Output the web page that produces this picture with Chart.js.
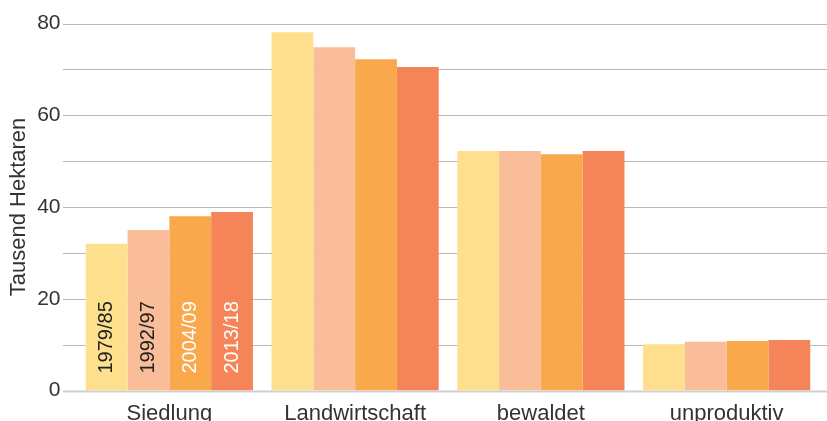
<!DOCTYPE html>
<html>
<head>
<meta charset="utf-8">
<script src="https://cdn.jsdelivr.net/npm/chart.js@4/dist/chart.umd.min.js"></script>
<style>
  html, body { margin: 0; padding: 0; background: #fff; }
  #wrap { width: 827px; height: 421px; position: relative; }
</style>
</head>
<body>
<div id="wrap"><canvas id="areaChart"></canvas></div>
<script>
// land use categories and survey periods
var categories = ["Siedlung", "Landwirtschaft", "bewaldet", "unproduktiv"];
var periods = ["1979/85", "1992/97", "2004/09", "2013/18"];

// values in thousand hectares, one array per period
var values1979 = [32.0, 78.1, 52.2, 10.1];
var values1992 = [35.0, 74.8, 52.2, 10.6];
var values2004 = [38.0, 72.2, 51.5, 10.8];
var values2013 = [38.9, 70.5, 52.2, 11.0];

var yTicks = [0, 20, 40, 60, 80];

var barColors = ["#fddf8e", "#f9be99", "#f9a84b", "#f58458"];
var labelColors = ["#222222", "#222222", "#ffffff", "#ffffff"];

var fontFamily = "'Liberation Sans', Arial, sans-serif";

// horizontal grid lines reach past the plot area on both sides
var gridPlugin = {
    id: "wideGrid",
    beforeDatasetsDraw: function(chart) {
        var ctx = chart.ctx;
        var y = chart.scales.y;
        ctx.save();
        y.ticks.forEach(function(t) {
            var py = Math.round(y.getPixelForValue(t.value)) + 0.5;
            ctx.beginPath();
            if (t.value === 0) {
                ctx.strokeStyle = "#cfcfcf";
                ctx.lineWidth = 2;
            } else {
                ctx.strokeStyle = "#b8b8b8";
                ctx.lineWidth = 1;
            }
            ctx.moveTo(63, py);
            ctx.lineTo(chart.width, py);
            ctx.stroke();
        });
        ctx.restore();
    }
};

// period names written upright inside the first group of bars
var periodLabelPlugin = {
    id: "periodLabels",
    afterDatasetsDraw: function(chart) {
        var ctx = chart.ctx;
        var base = chart.scales.y.getPixelForValue(0);
        ctx.save();
        ctx.font = "20px " + fontFamily;
        ctx.textAlign = "left";
        ctx.textBaseline = "middle";
        chart.data.datasets.forEach(function(ds, i) {
            var bar = chart.getDatasetMeta(i).data[0];
            ctx.save();
            ctx.translate(bar.x, base - 17);
            ctx.rotate(-Math.PI / 2);
            ctx.fillStyle = labelColors[i];
            ctx.fillText(periods[i], 0, 0);
            ctx.restore();
        });
        ctx.restore();
    }
};

var seriesValues = [values1979, values1992, values2004, values2013];

var areaChart = new Chart(document.getElementById("areaChart"), {
    type: "bar",
    data: {
        labels: categories,
        datasets: seriesValues.map(function(vals, i) {
            return {
                label: periods[i],
                data: vals,
                backgroundColor: barColors[i],
                borderWidth: 0,
                categoryPercentage: 0.9,
                barPercentage: 1.0
            };
        })
    },
    options: {
        responsive: true,
        maintainAspectRatio: false,
        animation: false,
        layout: { padding: { top: 23.5, right: 7.5, left: 0, bottom: 0 } },
        plugins: {
            legend: { display: false },
            tooltip: { enabled: false }
        },
        scales: {
            x: {
                grid: { display: false, drawTicks: false },
                border: { display: false },
                ticks: {
                    color: "#333333",
                    padding: 10,
                    font: { family: fontFamily, size: 22 }
                },
                afterFit: function(s) {
                    s.height = 30.5;
                    s.paddingLeft = 0;
                    s.paddingRight = 0;
                }
            },
            y: {
                min: 0,
                max: 80,
                grid: { display: false, drawTicks: false },
                border: { display: false },
                ticks: {
                    stepSize: 10,
                    padding: 16,
                    color: "#333333",
                    font: { family: fontFamily, size: 21 },
                    callback: function(v) { return yTicks.indexOf(v) >= 0 ? v : ""; }
                },
                title: {
                    display: true,
                    text: "Tausend Hektaren",
                    color: "#333333",
                    font: { family: fontFamily, size: 22 },
                    padding: { top: 6, bottom: 0 }
                },
                afterFit: function(s) {
                    s.width = 76.5;
                    s.paddingTop = 0;
                    s.paddingBottom = 0;
                }
            }
        }
    },
    plugins: [gridPlugin, periodLabelPlugin]
});
</script>
</body>
</html>
